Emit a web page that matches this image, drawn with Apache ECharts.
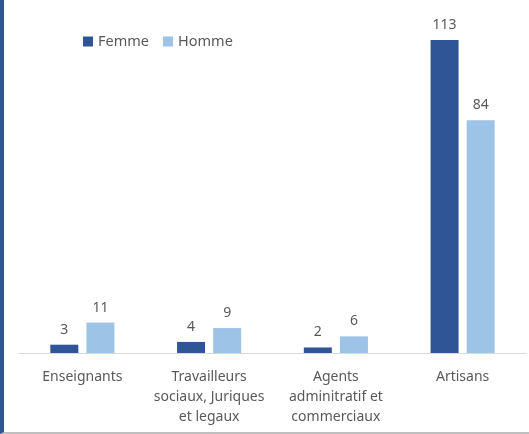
<!DOCTYPE html>
<html>
<head>
<meta charset="utf-8">
<script src="https://cdn.jsdelivr.net/npm/echarts@6/dist/echarts.min.js"></script>
<style>
  html, body { margin: 0; padding: 0; background: #fff; }
  #chart {
    width: 525px; height: 432px;
    border-left: 4px solid #2F5597;
    border-bottom: 2px solid #BFBFBF;
  }
</style>
</head>
<body>
<div id="chart"></div>
<script>
// data
var categories = ['Enseignants', 'Travailleurs\nsociaux, Juriques\net legaux', 'Agents\nadminitratif et\ncommerciaux', 'Artisans']
var femme = [3, 4, 2, 113]
var homme = [11, 9, 6, 84]

var txt = '#595959'
var font = 'Noto Sans'

var chart = echarts.init(document.getElementById('chart'))
chart.setOption({
  animation: false,
  textStyle: { fontFamily: font },
  legend: {
    data: ['Femme', 'Homme'],
    left: 79, top: 34, padding: 0,
    itemWidth: 10, itemHeight: 10,
    itemGap: 14,
    icon: 'rect',
    textStyle: { color: txt, fontSize: 14.5, fontFamily: font }
  },
  grid: { left: 15, right: 3, top: 40, bottom: 79 },
  xAxis: {
    type: 'category',
    data: categories,
    axisTick: { show: false },
    axisLine: { lineStyle: { color: '#D9D9D9', width: 1 } },
    axisLabel: { color: txt, fontSize: 14, lineHeight: 20, margin: 14, interval: 0, fontFamily: font }
  },
  yAxis: {
    type: 'value',
    min: 0, max: 113,
    show: false,
    splitLine: { show: false }
  },
  series: [
    {
      name: 'Femme', type: 'bar', data: femme,
      barWidth: 28, barGap: '29%',
      itemStyle: { color: '#2F5597' },
      label: { show: true, position: 'top', distance: 8, color: txt, fontSize: 14, fontFamily: font }
    },
    {
      name: 'Homme', type: 'bar', data: homme,
      barWidth: 28,
      itemStyle: { color: '#9DC3E6' },
      label: { show: true, position: 'top', distance: 8, color: txt, fontSize: 14, fontFamily: font }
    }
  ]
})
</script>
</body>
</html>
